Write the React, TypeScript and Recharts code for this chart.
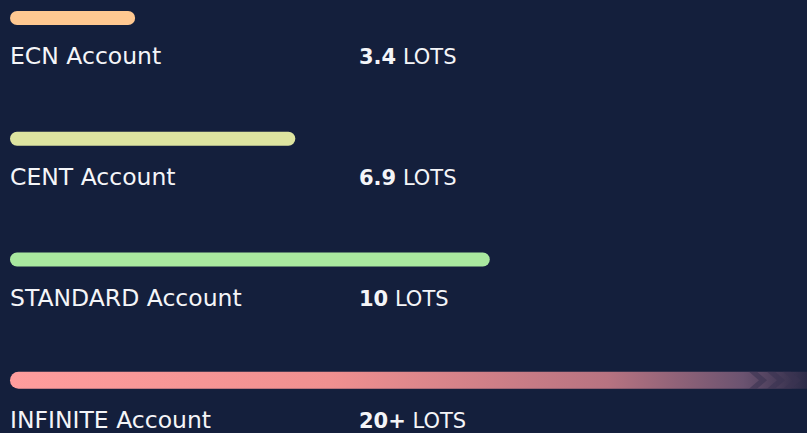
import React from 'react';
import { BarChart, Bar, XAxis, YAxis, Cell, LabelList } from 'recharts';

const accounts = ['ECN Account', 'CENT Account', 'STANDARD Account', 'INFINITE Account'];
const lots = ['3.4', '6.9', '10', '20+'];
const barLengths = [15.7, 35.8, 60.2, 100];
const COLORS = ['#ffc891', '#dde4a0', '#a9e89f', 'url(#infiniteFade)'];

const BG = '#141f3c';
const FONT = "'DejaVu Sans', sans-serif";

const data = accounts.map((name, i) => ({ name, lots: lots[i], value: barLengths[i] }));

const RoundBar = (props: any) => {
  const { x, y, width, height, fill, index } = props;
  const last = index === accounts.length - 1;
  const h = last ? height + 3 : height;
  const top = y + height / 2 - h / 2;
  const r = h / 2;
  if (!last) {
    return <rect x={x} y={top} width={width} height={h} rx={r} ry={r} fill={fill} />;
  }
  // infinite bar: fades out to the right with chevrons
  const end = x + width;
  const chevron = (cx: number, w: number) => (
    <polygon
      points={`${cx - w},${top} ${cx},${top} ${cx + 10},${top + h / 2} ${cx},${top + h} ${cx - w},${top + h} ${cx - w + 10},${top + h / 2}`}
      fill="#3b3452"
      opacity={0.6}
    />
  );
  return (
    <g>
      <path
        d={`M${x + r},${top} H${end} V${top + h} H${x + r} A${r},${r} 0 0 1 ${x + r},${top}`}
        fill={fill}
      />
      {chevron(end - 50, 8)}
      {chevron(end - 32, 8)}
      {chevron(end - 16, 8)}
    </g>
  );
};

const RowLabel = (props: any) => {
  const { x, y, height, index } = props;
  const last = index === accounts.length - 1;
  const baseY = y + height / 2 + (last ? 48 : 46);
  return (
    <g>
      <text x={x} y={baseY} fill="#f4f5f8" fontSize={23.5} fontFamily={FONT}>
        {accounts[index]}
      </text>
      <text x={359} y={baseY} fill="#f4f5f8" fontSize={21} fontFamily={FONT}>
        <tspan fontWeight={700}>{lots[index]}</tspan>
        <tspan> LOTS</tspan>
      </text>
    </g>
  );
};

export default function App() {
  return (
    <div style={{ width: 807, height: 433, background: BG, overflow: 'hidden' }}>
      <style>{`html, body { margin: 0; padding: 0; background: ${BG}; }`}</style>
      <BarChart
        width={807}
        height={433}
        data={data}
        layout="vertical"
        margin={{ top: -42, right: 0, bottom: -8, left: 10 }}
        barSize={14}
      >
        <defs>
          <linearGradient id="infiniteFade" x1="0" y1="0" x2="1" y2="0">
            <stop offset="0%" stopColor="#ff9d9d" />
            <stop offset="40%" stopColor="#f09090" />
            <stop offset="75%" stopColor="#b77381" />
            <stop offset="92%" stopColor="#6b5370" />
            <stop offset="100%" stopColor="#2c2b48" />
          </linearGradient>
        </defs>
        <XAxis type="number" domain={[0, 100]} hide />
        <YAxis type="category" dataKey="name" hide />
        <Bar dataKey="value" shape={<RoundBar />} isAnimationActive={false}>
          {data.map((d, i) => (
            <Cell key={d.name} fill={COLORS[i]} />
          ))}
          <LabelList dataKey="name" content={<RowLabel />} />
        </Bar>
      </BarChart>
    </div>
  );
}
